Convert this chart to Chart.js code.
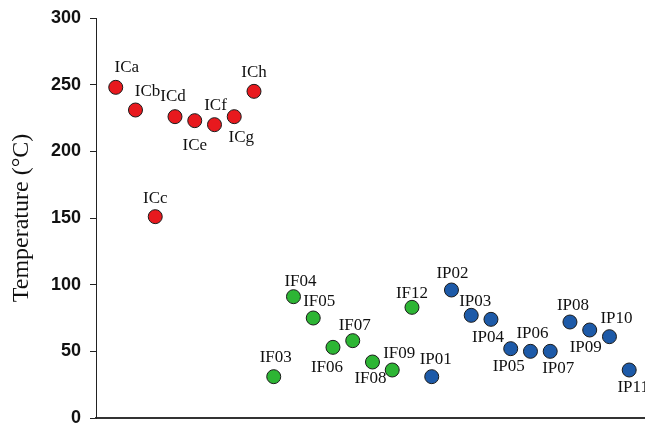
<!DOCTYPE html>
<html>
<head>
<meta charset="utf-8">
<script src="https://cdn.jsdelivr.net/npm/chart.js@4.4.0/dist/chart.umd.min.js"></script>
<style>
  html, body { margin: 0; padding: 0; background: #fff; overflow: hidden; }
  #wrap { width: 645px; height: 423px; position: relative; }
</style>
</head>
<body>
<div id="wrap"><canvas id="temp-chart"></canvas></div>
<script>
// samples in plotting order
var icNames = ['ICa', 'ICb', 'ICc', 'ICd', 'ICe', 'ICf', 'ICg', 'ICh'];
var icTemps = [248, 231, 151, 226, 223, 220, 226, 245];

var ifNames = ['IF03', 'IF04', 'IF05', 'IF06', 'IF07', 'IF08', 'IF09', 'IF12'];
var ifTemps = [31, 91, 75, 53, 58, 42, 36, 83];

var ipNames = ['IP01', 'IP02', 'IP03', 'IP04', 'IP05', 'IP06', 'IP07', 'IP08', 'IP09', 'IP10', 'IP11'];
var ipTemps = [31, 96, 77, 74, 52, 50, 50, 72, 66, 61, 36];

var yTicks = [0, 50, 100, 150, 200, 250, 300];

// label placement relative to each marker [dx, dy] (style only)
var labelOffsets = {
  ICa: [11, -20], ICb: [12, -18], ICc: [0, -18], ICd: [-2, -20], ICe: [0, 25],
  ICf: [1, -19], ICg: [7, 21], ICh: [0, -19],
  IF03: [2, -19], IF04: [7, -15], IF05: [6, -16], IF06: [-6, 20], IF07: [2, -15],
  IF08: [-2, 17], IF09: [7, -16], IF12: [0, -14],
  IP01: [4, -17], IP02: [1, -16], IP03: [4, -14], IP04: [-3, 18], IP05: [-2, 18],
  IP06: [2, -18], IP07: [8, 17], IP08: [3, -16], IP09: [-4, 18], IP10: [7, -18], IP11: [4, 18]
};

function toPoints(names, temps, start) {
  return names.map(function (n, i) {
    return { x: start + i, y: temps[i], name: n };
  });
}

var icData = toPoints(icNames, icTemps, 0);
var ifData = toPoints(ifNames, ifTemps, icNames.length);
var ipData = toPoints(ipNames, ipTemps, icNames.length + ifNames.length);

var pointLabels = {
  id: 'pointLabels',
  afterDatasetsDraw: function (chart) {
    var ctx = chart.ctx;
    ctx.save();
    ctx.font = '17px "Liberation Serif", "Times New Roman", serif';
    ctx.fillStyle = '#111';
    ctx.textAlign = 'center';
    ctx.textBaseline = 'middle';
    chart.data.datasets.forEach(function (ds, di) {
      var meta = chart.getDatasetMeta(di);
      meta.data.forEach(function (el, i) {
        var name = ds.data[i].name;
        var off = labelOffsets[name] || [0, -18];
        ctx.fillText(name, el.x + off[0], el.y + off[1]);
      });
    });
    ctx.restore();
  }
};

function series(data, color) {
  return {
    data: data,
    backgroundColor: color,
    borderColor: '#1a1a1a',
    borderWidth: 1,
    pointRadius: 7,
    pointHoverRadius: 7,
    clip: false
  };
}

new Chart(document.getElementById('temp-chart'), {
  type: 'scatter',
  data: {
    datasets: [
      series(icData, '#e8191e'),
      series(ifData, '#2db534'),
      series(ipData, '#1d5aa8')
    ]
  },
  options: {
    responsive: true,
    maintainAspectRatio: false,
    animation: false,
    layout: { autoPadding: false, padding: { top: 18, right: 0, left: 0, bottom: 0 } },
    plugins: {
      legend: { display: false },
      tooltip: { enabled: false }
    },
    scales: {
      x: {
        type: 'linear',
        min: -1,
        max: 26.8,
        ticks: { display: false },
        grid: { display: false, drawTicks: false },
        border: { display: true, color: '#333', width: 2 },
        afterFit: function (scale) {
          scale.height = 5;
          scale.paddingLeft = scale.paddingRight = 0;
        }
      },
      y: {
        min: 0,
        max: 300,
        afterBuildTicks: function (scale) {
          scale.ticks = yTicks.map(function (v) { return { value: v }; });
        },
        ticks: {
          color: '#111',
          padding: 9,
          font: { family: '"Liberation Sans", Arial, sans-serif', size: 18, weight: 'bold' }
        },
        grid: { display: true, drawOnChartArea: false, drawTicks: true, tickLength: 6, color: '#222' },
        border: { display: true, color: '#222', width: 1 },
        title: {
          display: true,
          text: 'Temperature (\u00B0C)',
          color: '#111',
          padding: { top: 7, bottom: 4 },
          font: { family: '"Liberation Serif", "Times New Roman", serif', size: 24 }
        },
        afterFit: function (scale) {
          scale.width = 96;
          scale.paddingTop = scale.paddingBottom = 0;
        }
      }
    }
  },
  plugins: [pointLabels]
});
</script>
</body>
</html>
